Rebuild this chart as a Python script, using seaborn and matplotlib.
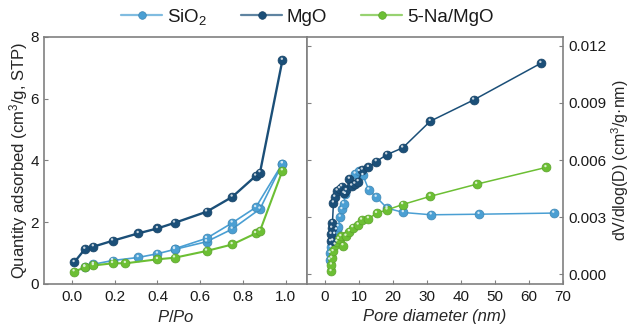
import numpy as np
import pandas as pd
import matplotlib
matplotlib.use("Agg")
import matplotlib.pyplot as plt
import matplotlib.transforms as mtransforms
from matplotlib.lines import Line2D
import seaborn as sns

# ---------------- data ----------------
samples = ["SiO$_2$", "MgO", "5-Na/MgO"]
colors = {"SiO$_2$": "#4a9fd3", "MgO": "#1b4f78", "5-Na/MgO": "#6cbf34"}

# isotherms (P/Po vs quantity adsorbed)
mgo_iso_p = [0.01, 0.06, 0.10, 0.19, 0.31, 0.40, 0.48, 0.63, 0.75, 0.86, 0.88, 0.985]
mgo_iso_q = [0.70, 1.13, 1.21, 1.40, 1.64, 1.80, 1.98, 2.34, 2.82, 3.50, 3.61, 7.25]

sio2_ads_p = [0.06, 0.10, 0.19, 0.31, 0.40, 0.48, 0.63, 0.75, 0.88, 0.985]
sio2_ads_q = [0.56, 0.64, 0.76, 0.86, 0.98, 1.12, 1.37, 1.78, 2.43, 3.90]
sio2_des_p = [0.985, 0.86, 0.75, 0.63, 0.48]
sio2_des_q = [3.90, 2.48, 1.98, 1.48, 1.14]

na_iso_p = [0.01, 0.06, 0.10, 0.19, 0.25, 0.40, 0.48, 0.63, 0.75, 0.86, 0.88, 0.985]
na_iso_q = [0.40, 0.54, 0.60, 0.67, 0.67, 0.80, 0.85, 1.07, 1.28, 1.64, 1.72, 3.67]

# pore size distributions
mgo_d = [1.7, 1.8, 2.0, 2.2, 2.5, 2.9, 3.6, 4.3, 4.9, 5.6, 6.3, 7.2, 7.9, 8.8, 9.8,
         11.0, 12.8, 15.1, 18.2, 22.9, 31.0, 43.8, 63.6]
mgo_v = [0.00172, 0.0021, 0.00242, 0.00271, 0.00375, 0.00405, 0.00438, 0.0045, 0.0046,
         0.00425, 0.0044, 0.0050, 0.00464, 0.00474, 0.00487, 0.00548, 0.00562, 0.00592,
         0.00628, 0.00664, 0.00804, 0.00916, 0.01109]

sio2_d = [1.4, 1.5, 1.8, 2.3, 2.9, 3.4, 3.9, 4.5, 5.0, 5.5, 6.0, 8.9, 10.1, 11.2, 12.9,
          15.1, 18.3, 23.1, 31.3, 45.4, 67.4]
sio2_v = [0.00075, 0.0011, 0.0014, 0.00175, 0.0021, 0.00233, 0.0025, 0.0030, 0.0034,
          0.0037, 0.0042, 0.00527, 0.0054, 0.00519, 0.00443, 0.00405, 0.00347, 0.00324,
          0.00312, 0.00315, 0.00321]

na_d = [1.8, 1.9, 2.0, 2.4, 3.0, 3.5, 4.0, 4.7, 5.3, 6.2, 7.2, 8.2, 9.8, 10.8, 12.8,
        15.2, 18.3, 22.9, 31.0, 44.7, 65.1]
na_v = [0.00014, 0.00049, 0.00084, 0.00119, 0.00154, 0.0017, 0.00184, 0.00198, 0.0015,
        0.0020, 0.00224, 0.00245, 0.00259, 0.00285, 0.00292, 0.0032, 0.00338, 0.00366,
        0.00409, 0.00473, 0.00561]

# ---------------- style ----------------
sns.set_theme(style="white")
plt.rcParams["font.family"] = ["Liberation Sans", "DejaVu Sans"]
plt.rcParams["mathtext.fontset"] = "custom"
plt.rcParams["mathtext.rm"] = "Liberation Sans"
plt.rcParams["mathtext.it"] = "Liberation Sans:italic"
FS = 11

fig = plt.figure(figsize=(6.31, 3.27), dpi=100)
axL = fig.add_axes([0.0702, 0.1315, 0.4163, 0.7554])
axR = fig.add_axes([0.4865, 0.1315, 0.4052, 0.7554])

spine_col = "#808080"


def darker(c, f=0.75):
    r, g, b = matplotlib.colors.to_rgb(c)
    return (r * f, g * f, b * f)


def lighter(c, f=0.6):
    r, g, b = matplotlib.colors.to_rgb(c)
    return (r + (1 - r) * f, g + (1 - g) * f, b + (1 - b) * f)


def draw(ax, x, y, name, lw, ms=6.4):
    df = pd.DataFrame({"x": x, "y": y})
    c = colors[name]
    sns.lineplot(data=df, x="x", y="y", ax=ax, sort=False, color=c, lw=lw,
                 marker="o", markersize=ms, markeredgecolor=darker(c, 0.85),
                 markeredgewidth=0.5, estimator=None, legend=False)
    hl = mtransforms.offset_copy(ax.transData, fig=fig, x=-0.6, y=1.4, units="dots")
    sns.scatterplot(data=df, x="x", y="y", ax=ax, s=3, color=lighter(c, 0.75),
                    edgecolor="none", transform=hl, legend=False, zorder=5)


# left: isotherms
draw(axL, sio2_ads_p, sio2_ads_q, "SiO$_2$", 1.2)
draw(axL, sio2_des_p, sio2_des_q, "SiO$_2$", 1.2)
draw(axL, na_iso_p, na_iso_q, "5-Na/MgO", 1.5)
draw(axL, mgo_iso_p, mgo_iso_q, "MgO", 1.7)

# right: PSD
draw(axR, sio2_d, sio2_v, "SiO$_2$", 1.1)
draw(axR, na_d, na_v, "5-Na/MgO", 1.1)
draw(axR, mgo_d, mgo_v, "MgO", 1.1)

axL.set_xlim(-0.13, 1.1)
axL.set_ylim(0, 8)
axL.set_xticks(np.arange(0, 1.01, 0.2))
axL.set_xticklabels([f"{v:.1f}" for v in np.arange(0, 1.01, 0.2)])
axL.set_yticks([0, 2, 4, 6, 8])
axL.set_xlabel("$\\it{P/Po}$", fontsize=FS + 1, labelpad=4)
axL.set_ylabel("Quantity adsorbed (cm$^3$/g, STP)", fontsize=FS + 1, labelpad=0)

axR.set_xlim(-5.3, 70)
axR.set_ylim(-0.00052, 0.01247)
axR.set_xticks(np.arange(0, 71, 10))
axR.set_yticks([0, 0.003, 0.006, 0.009, 0.012])
axR.set_yticklabels(["0.000", "0.003", "0.006", "0.009", "0.012"])
axR.yaxis.tick_right()
axR.yaxis.set_label_position("right")
axR.set_xlabel("Pore diameter (nm)", fontsize=FS + 1, style="italic", labelpad=4)
axR.set_ylabel("dV/dlog(D) (cm$^3$/g\u00b7nm)", fontsize=FS + 0.5, labelpad=2)

for ax in (axL, axR):
    for s in ax.spines.values():
        s.set_visible(True)
        s.set_color(spine_col)
        s.set_linewidth(1.2)
    ax.tick_params(direction="in", length=3, width=0.8, color=spine_col,
                   labelsize=FS, pad=4, labelcolor="#1a1a1a")
axL.tick_params(axis="both", bottom=True, left=True)
axR.tick_params(axis="both", bottom=True, left=True, right=True)
axR.tick_params(axis="y", labelleft=False, labelright=True)

# legend
handles = [Line2D([], [], color=lighter(colors[n], 0.3), lw=1.6, marker="o",
                  markersize=5.5, markerfacecolor=colors[n],
                  markeredgecolor=darker(colors[n], 0.85), markeredgewidth=0.5)
           for n in samples]
fig.legend(handles, samples, loc="center", bbox_to_anchor=(0.487, 0.948), ncol=3,
           frameon=False, fontsize=FS + 2.5, handlelength=2.2, handletextpad=0.25,
           columnspacing=1.8, labelcolor="#1a1a1a")

fig.savefig("out.png", dpi=100)
